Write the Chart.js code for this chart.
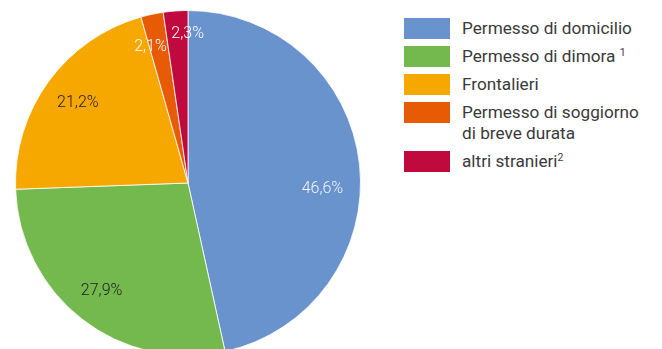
<!DOCTYPE html>
<html>
<head>
<meta charset="utf-8">
<script src="https://cdn.jsdelivr.net/npm/chart.js@4.4.1/dist/chart.umd.min.js"></script>
<style>
  html, body { margin: 0; padding: 0; background: #fff; }
  body { width: 662px; height: 349px; overflow: hidden; position: relative; font-family: Roboto, "Noto Sans", sans-serif; }
  #pieBox { position: absolute; left: 0; top: 0; width: 376px; height: 366px; }
  #legend { position: absolute; left: 404px; top: 18px; display: flex; flex-direction: column; gap: 7px; }
  .item { display: flex; align-items: flex-start; }
  .box { width: 46px; height: 21px; flex: none; }
  .txt { margin-left: 12px; font-size: 17.2px; line-height: 21px; color: #3a3a3a; white-space: pre; }
  .txt sup { font-size: 10.5px; vertical-align: 6px; line-height: 0; }
</style>
</head>
<body>
<div id="pieBox"><canvas id="myChart1" width="376" height="366"></canvas></div>
<div id="legend"></div>
<script>
  // dati (percentuali)
  const categorie = ['Permesso di domicilio', 'Permesso di dimora', 'Frontalieri', 'Permesso di soggiorno\ndi breve durata', 'altri stranieri'];
  const note = [' ', ' 1', '', '', '2'];
  const valori = [46.6, 27.9, 21.2, 2.1, 2.3];
  const colori = ['#6993CD', '#74B94D', '#F6A700', '#E85B05', '#C00A3D'];
  const coloriEtichette = ['#f2f5fb', '#222222', '#222222', '#ffffff', '#ffffff'];

  // spostamento etichette: [delta angolo in gradi, raggio relativo]
  const posEtichette = [[8.7, 0.78], [1, 0.80], [0, 0.79], [-3.3, 0.82], [4, 0.865]];

  const ctx = document.getElementById('myChart1');

  const etichette = {
    id: 'etichette',
    afterDatasetsDraw(chart) {
      const c = chart.ctx;
      const meta = chart.getDatasetMeta(0);
      c.save();
      c.font = '300 16px Roboto';
      c.textAlign = 'center';
      c.textBaseline = 'middle';
      meta.data.forEach(function(arc, i) {
        const p = arc.getProps(['x', 'y', 'startAngle', 'endAngle', 'outerRadius'], true);
        const a = (p.startAngle + p.endAngle) / 2 + posEtichette[i][0] * Math.PI / 180;
        const r = p.outerRadius * posEtichette[i][1];
        c.fillStyle = coloriEtichette[i];
        c.fillText(valori[i].toFixed(1).replace('.', ',') + '%', p.x + Math.cos(a) * r, p.y + Math.sin(a) * r);
      });
      c.restore();
    }
  };

  new Chart(ctx, {
    type: 'pie',
    data: {
      labels: categorie,
      datasets: [{
        data: valori,
        backgroundColor: colori,
        borderColor: 'rgba(255,255,255,0.8)',
        borderWidth: 1
      }]
    },
    options: {
      responsive: false,
      animation: false,
      layout: { padding: 10 },
      plugins: {
        legend: { display: false },
        tooltip: { enabled: false }
      }
    },
    plugins: [etichette]
  });

  // legenda
  const leg = document.getElementById('legend');
  categorie.forEach(function(nome, i) {
    const item = document.createElement('div');
    item.className = 'item';
    const box = document.createElement('div');
    box.className = 'box';
    box.style.background = colori[i];
    const txt = document.createElement('div');
    txt.className = 'txt';
    txt.textContent = nome;
    if (note[i].trim() !== '') {
      if (note[i].startsWith(' ')) txt.appendChild(document.createTextNode(' '));
      const s = document.createElement('sup');
      s.textContent = note[i].trim();
      txt.appendChild(s);
    }
    item.appendChild(box);
    item.appendChild(txt);
    leg.appendChild(item);
  });
</script>
</body>
</html>
